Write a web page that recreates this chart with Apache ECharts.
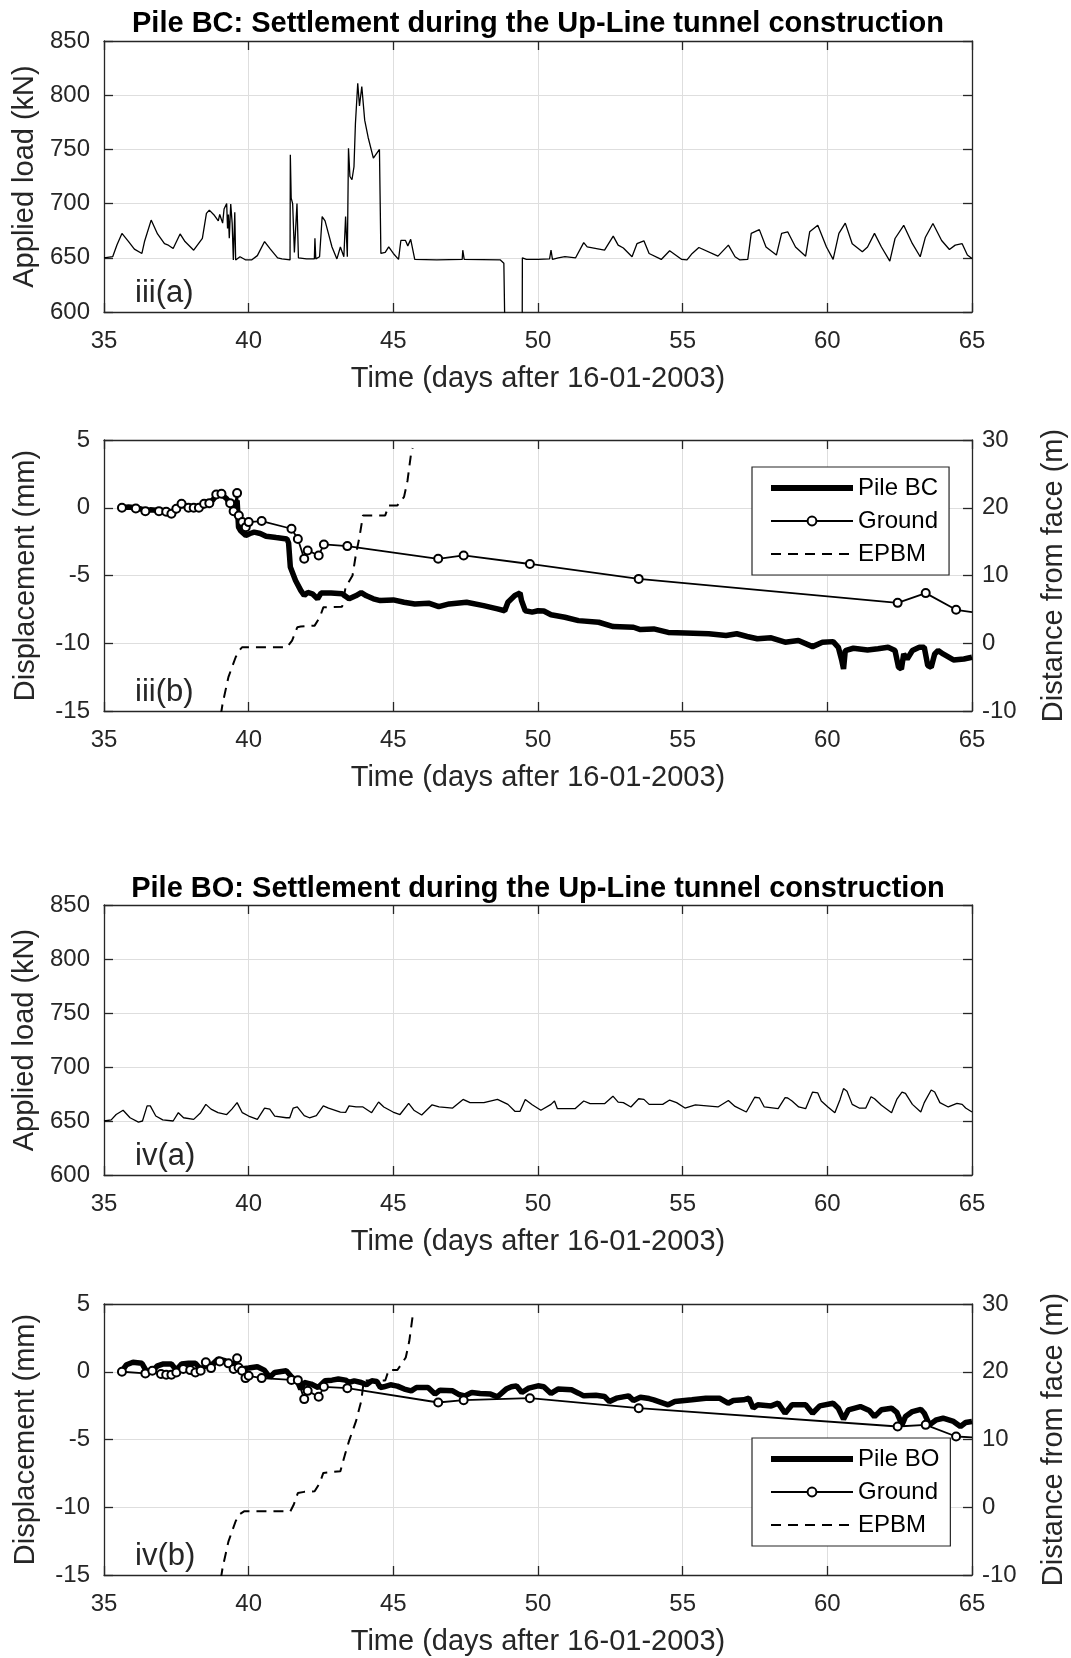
<!DOCTYPE html>
<html><head><meta charset="utf-8">
<script src="https://cdn.jsdelivr.net/npm/echarts/dist/echarts.min.js"></script>
<style>html,body{margin:0;padding:0;background:#fff}#c{width:1071px;height:1658px}</style>
</head><body><div id="c"></div>
<script>
// ---------------- DATA ----------------
const timeTicks = [35, 40, 45, 50, 55, 60, 65];
const loadTicks = [600, 650, 700, 750, 800, 850];
const dispTicks = [-15, -10, -5, 0, 5];
const distTicks = [-10, 0, 10, 20, 30];

// Pile BC applied load [day, kN]
const loadBC = [
[35.0,650],[35.3,651],[35.45,662],[35.62,672.5],[35.85,665],[36.05,658],[36.31,654],[36.4,665],[36.63,684.8],[36.85,672],
[37.09,663],[37.2,662],[37.39,658.6],[37.63,672],[37.8,665],[38.1,657],[38.4,668],[38.54,691],[38.64,694],[38.82,689],
[38.95,684],[39.0,690],[39.1,682],[39.15,695],[39.24,700],[39.27,677],[39.3,690],[39.33,668],[39.38,699.5],[39.43,682],
[39.47,648],[39.52,692],[39.55,648],[39.7,651],[39.9,648],[40.1,648],[40.3,652],[40.55,665],[40.75,658],[41.0,650],
[41.15,649],[41.43,648],[41.44,745],[41.47,705],[41.52,700],[41.58,655],[41.67,700],[41.72,650],[42.0,649],[42.27,649],
[42.29,668],[42.32,649],[42.45,651],[42.54,688],[42.64,684],[42.76,672],[42.88,660],[43.05,649],[43.17,660],[43.29,651],
[43.35,688],[43.41,651],[43.45,751],[43.5,725],[43.57,722],[43.64,734],[43.69,774],[43.77,811],[43.83,790],[43.91,808],
[44.01,777],[44.13,761],[44.31,742],[44.52,750],[44.57,654],[44.72,655],[44.84,660],[45.0,654],[45.18,648.5],[45.26,666],
[45.42,666],[45.5,661],[45.6,667],[45.74,648.5],[46.5,648],[47.38,648.5],[47.4,657],[47.45,648.5],[48.7,648],[48.82,645],
[48.88,540],[49.45,540],[49.46,650],[49.6,648.5],[50.0,648.5],[50.4,649],[50.45,657],[50.5,648.5],[50.7,650],[50.93,651],
[51.3,650],[51.58,664],[51.7,660],[52.3,657],[52.6,670],[52.77,661.7],[52.95,659],[53.25,651],[53.42,663],[53.66,665.7],
[53.84,654],[54.26,648.5],[54.55,656.5],[54.97,648.5],[55.15,648],[55.33,654],[55.56,659.5],[56.22,651.5],[56.58,661.7],[56.81,651],
[56.98,648],[57.25,648.5],[57.37,672.5],[57.65,676],[57.88,660],[58.24,652.5],[58.42,672.5],[58.63,674],[58.9,660],[59.25,651.5],
[59.39,674],[59.67,680],[59.97,660],[60.2,648.5],[60.4,672.5],[60.62,682],[60.86,663],[61.21,655.5],[61.39,660],[61.63,672.5],
[61.87,660],[62.16,647],[62.34,667.8],[62.64,680],[62.94,663],[63.21,651],[63.39,669],[63.65,681.7],[63.95,666],[64.22,657.7],
[64.42,661.7],[64.66,663],[64.84,652.5],[65.0,649.4]
];

// Pile BC displacement [day, mm]
const pileBC = [
[35.6,0],[35.85,0.05],[36.1,0],[36.3,-0.1],[36.43,-0.25],[36.6,-0.15],[36.9,-0.2],[37.15,-0.2],[37.39,-0.44],[37.5,-0.1],
[37.63,0.17],[37.9,0.15],[38.1,0],[38.35,0.05],[38.58,0.3],[38.75,0.55],[38.94,1.08],[39.06,1.0],[39.24,0.66],[39.42,0.1],
[39.52,-0.2],[39.6,0.54],[39.65,-1.43],[39.72,-1.7],[39.9,-2.04],[40.05,-1.9],[40.19,-1.8],[40.4,-1.9],[40.6,-2.1],[40.95,-2.2],
[41.32,-2.3],[41.38,-2.6],[41.44,-4.38],[41.62,-5.37],[41.8,-6.1],[41.92,-6.48],[42.04,-6.25],[42.2,-6.35],[42.38,-6.72],[42.5,-6.3],
[42.85,-6.3],[43.23,-6.35],[43.47,-6.72],[43.7,-6.5],[43.89,-6.26],[44.07,-6.5],[44.31,-6.72],[44.55,-6.85],[45.0,-6.8],[45.37,-6.97],
[45.74,-7.1],[46.22,-7.04],[46.57,-7.3],[46.93,-7.1],[47.53,-6.97],[48.12,-7.22],[48.6,-7.46],[48.85,-7.6],[48.96,-6.97],[49.2,-6.48],
[49.38,-6.3],[49.43,-6.85],[49.56,-7.6],[49.8,-7.7],[50.0,-7.6],[50.2,-7.62],[50.45,-7.9],[50.93,-8.08],[51.4,-8.33],[52.1,-8.45],
[52.6,-8.77],[53.3,-8.82],[53.54,-8.99],[54.0,-8.94],[54.5,-9.2],[55.1,-9.24],[55.9,-9.3],[56.5,-9.43],[56.87,-9.3],[57.23,-9.5],
[57.58,-9.67],[58.06,-9.6],[58.54,-9.92],[59.0,-9.8],[59.49,-10.25],[59.83,-9.93],[60.2,-9.88],[60.38,-10.3],[60.5,-11.28],[60.56,-11.9],
[60.62,-10.54],[60.9,-10.37],[61.39,-10.5],[61.75,-10.4],[62.1,-10.3],[62.34,-10.54],[62.46,-11.77],[62.56,-11.9],[62.64,-10.79],[62.76,-11.16],
[62.94,-10.54],[63.18,-10.3],[63.35,-10.3],[63.47,-11.65],[63.59,-11.77],[63.71,-10.79],[63.83,-10.54],[64.0,-10.79],[64.36,-11.23],[64.72,-11.16],
[65.0,-11.03]
];

// Ground next to pile BC [day, mm]
const groundBC = [
[35.62,0],[36.1,-0.05],[36.43,-0.25],[36.9,-0.25],[37.15,-0.3],[37.33,-0.44],[37.5,-0.07],[37.68,0.3],[37.92,0],[38.1,0],
[38.28,0],[38.46,0.3],[38.64,0.34],[38.88,0.98],[39.06,1.03],[39.36,0.34],[39.48,-0.25],[39.6,1.08],[39.66,-0.57],[39.78,-1.06],
[39.9,-1.43],[40.0,-1.06],[40.45,-0.98],[41.48,-1.55],[41.7,-2.3],[41.92,-3.77],[42.04,-3.15],[42.42,-3.52],[42.6,-2.71],[43.41,-2.83],
[46.55,-3.77],[47.43,-3.52],[49.72,-4.15],[53.48,-5.25],[62.43,-7.02],[63.4,-6.3],[64.45,-7.53],[65.0,-7.7]
];

// EPBM distance from face, pile BC [day, m]
const epbmBC = [
[39.04,-10.5],[39.1,-8.9],[39.3,-5.0],[39.55,-2.07],[39.67,-1.08],[39.77,-0.6],[41.32,-0.6],[41.5,0.4],[41.68,2.36],[41.8,2.46],
[42.28,2.6],[42.46,3.84],[42.58,5.3],[43.23,5.4],[43.35,8.28],[43.59,10.0],[43.71,13.2],[43.83,15.67],[43.95,18.87],[44.72,18.87],
[44.84,20.35],[45.14,20.35],[45.37,21.6],[45.49,24.0],[45.61,27.9],[45.67,28.8]
];

// Pile BO applied load [day, kN]
const loadBO = [
[35.0,650],[35.25,651],[35.42,656],[35.66,660],[35.9,653],[36.19,649],[36.33,650],[36.49,664],[36.6,664],[36.79,654.6],
[37.03,651],[37.39,650],[37.57,657.7],[37.75,653],[38.1,651.5],[38.34,657.7],[38.52,665.4],[38.7,661],[38.94,657.7],[39.24,656],
[39.42,661],[39.6,667],[39.78,657.7],[40.0,654.6],[40.3,651.5],[40.55,662],[40.73,661],[40.9,654.6],[41.3,653],[41.42,653],
[41.54,662],[41.68,663],[41.92,655],[42.1,653],[42.34,655],[42.58,664],[42.76,662],[43.17,658.3],[43.35,658],[43.47,664],
[43.71,663],[43.95,663],[44.25,657.7],[44.49,667.6],[44.67,663],[44.99,658.3],[45.23,656],[45.53,666.4],[45.71,660],[45.98,655.6],
[46.34,665],[46.58,663],[47.05,662],[47.41,670],[47.65,667],[48.13,667],[48.6,670],[48.96,665.4],[49.2,659],[49.38,659],
[49.56,670],[49.8,665],[50.1,660],[50.45,665.4],[50.57,668.5],[50.67,661.4],[51.28,661.4],[51.58,668.5],[51.8,666],[52.3,666],
[52.59,673],[52.77,667.5],[52.95,667],[53.21,663],[53.48,670.6],[53.66,670],[53.84,665.4],[54.31,665.4],[54.55,669.4],[54.79,667],
[55.08,662],[55.44,665],[56.22,663],[56.58,669],[56.81,663.5],[57.2,658.3],[57.49,672],[57.65,671.5],[57.82,663],[58.3,661.4],
[58.54,671.6],[58.63,671.3],[58.78,668.5],[59.01,663],[59.25,661.4],[59.49,676.8],[59.67,676],[59.79,668.5],[60.02,663],[60.26,657.7],
[60.44,670],[60.56,680],[60.68,677.5],[60.86,665.4],[61.1,662],[61.33,662],[61.51,672.5],[61.63,670.6],[61.87,664.5],[62.22,657.7],
[62.4,670],[62.58,676.8],[62.7,675.6],[62.94,665.4],[63.23,658.3],[63.35,667],[63.59,678.7],[63.71,676.8],[63.89,667],[64.18,663],
[64.48,666.4],[64.66,665.4],[64.78,662],[65.0,658.3]
];

// Pile BO displacement [day, mm]
const pileBO = [
[35.6,0],[35.78,0.52],[36.0,0.7],[36.31,0.62],[36.49,-0.05],[36.67,0.05],[36.85,0.44],[37.03,0.57],[37.33,0.57],[37.5,0.12],
[37.68,0.57],[37.92,0.62],[38.16,0.62],[38.34,0.2],[38.52,0.44],[38.76,0.57],[38.94,0.94],[39.18,0.81],[39.36,0.44],[39.54,0.7],
[39.72,0.2],[40.0,0.27],[40.3,0.37],[40.54,0.12],[40.73,-0.42],[40.9,-0.05],[41.3,0.07],[41.5,-0.42],[41.68,-0.67],[41.8,-1.28],
[41.92,-0.79],[42.16,-0.91],[42.4,-1.16],[42.64,-0.67],[42.88,-0.62],[43.1,-0.54],[43.35,-0.62],[43.47,-0.79],[43.65,-0.67],[43.89,-0.79],
[44.07,-0.96],[44.25,-0.67],[44.43,-0.72],[44.55,-1.16],[44.67,-1.11],[44.9,-0.96],[45.14,-1.06],[45.38,-1.28],[45.62,-1.41],[45.8,-1.16],
[46.2,-1.16],[46.44,-1.65],[46.61,-1.36],[47.05,-1.41],[47.29,-1.7],[47.47,-1.78],[47.71,-1.53],[48.0,-1.6],[48.36,-1.65],[48.6,-1.85],
[48.9,-1.28],[49.08,-1.11],[49.26,-1.04],[49.44,-1.53],[49.68,-1.21],[50.0,-1.04],[50.2,-1.1],[50.45,-1.6],[50.69,-1.28],[51.16,-1.33],
[51.4,-1.58],[51.58,-1.78],[52.0,-1.73],[52.3,-1.83],[52.47,-2.2],[52.71,-1.95],[53.13,-1.78],[53.3,-2.12],[53.54,-1.88],[53.84,-1.98],
[54.0,-2.07],[54.5,-2.44],[54.73,-2.2],[55.32,-2.07],[55.8,-1.95],[56.27,-1.95],[56.57,-2.32],[56.75,-2.12],[57.11,-2.07],[57.29,-1.95],
[57.44,-2.69],[57.59,-2.44],[58.06,-2.52],[58.3,-2.32],[58.54,-3.06],[58.78,-2.44],[59.25,-2.44],[59.49,-3.06],[59.74,-2.52],[60.2,-2.32],
[60.38,-2.69],[60.56,-3.5],[60.73,-2.81],[61.14,-2.57],[61.45,-2.86],[61.63,-3.31],[61.87,-2.81],[62.22,-2.69],[62.4,-3.0],[62.58,-3.92],
[62.7,-3.31],[62.94,-2.94],[63.23,-2.77],[63.35,-3.06],[63.53,-3.92],[63.77,-3.55],[64.0,-3.43],[64.36,-3.67],[64.6,-4.04],[64.78,-3.75],
[65.0,-3.67]
];

// Ground next to pile BO [day, mm]
const groundBO = [
[35.62,0],[36.43,-0.12],[36.67,0.07],[36.97,-0.17],[37.15,-0.22],[37.33,-0.22],[37.5,-0.05],[37.74,0.2],[37.98,0.12],[38.16,-0.05],
[38.34,0.07],[38.52,0.7],[38.7,0.27],[39.0,0.76],[39.3,0.62],[39.48,0.2],[39.6,1.0],[39.65,0.32],[39.77,0.07],[39.89,-0.47],
[40.0,-0.3],[40.45,-0.47],[41.48,-0.6],[41.7,-0.62],[41.92,-2.02],[42.04,-1.41],[42.42,-1.85],[42.6,-1.11],[43.41,-1.21],[46.55,-2.27],
[47.43,-2.1],[49.72,-1.95],[53.48,-2.69],[62.43,-4.04],[63.4,-3.92],[64.45,-4.78],[65.0,-4.85]
];

// EPBM distance from face, pile BO [day, m]
const epbmBO = [
[39.04,-10.5],[39.1,-8.9],[39.3,-5.07],[39.55,-2.07],[39.67,-1.08],[39.84,-0.6],[41.44,-0.6],[41.56,0.4],[41.7,2.1],[41.92,2.27],
[42.28,2.36],[42.46,3.6],[42.58,5.07],[43.17,5.32],[43.33,7.8],[43.47,9.8],[43.71,12.7],[43.89,15.67],[43.98,18.7],[44.72,18.7],
[44.84,20.25],[45.14,20.25],[45.43,22.1],[45.55,24.5],[45.68,28.6]
];

const titles = ['Pile BC: Settlement during the Up-Line tunnel construction',
                'Pile BO: Settlement during the Up-Line tunnel construction'];
const panelLabels = ['iii(a)', 'iii(b)', 'iv(a)', 'iv(b)'];
const xName = 'Time (days after 16-01-2003)';

// ---------------- STYLE / LAYOUT ----------------
const FONT = '"Liberation Sans", Arial, Helvetica, sans-serif';
const INK = '#262626';
const GRIDC = '#dedede';
const PILE_W = 5.5, THIN_W = 1.3, GROUND_W = 1.8, EPBM_W = 2, DASH = [10, 7];
const grids = [
  {left:104, top:41,   width:868, height:271},
  {left:104, top:440,  width:868, height:271},
  {left:104, top:905,  width:868, height:270},
  {left:104, top:1304, width:868, height:271}
];
const span = a => ({min:a[0], max:a[a.length-1], interval:a[1]-a[0]});
const line = {show:true, onZero:false, lineStyle:{color:INK, width:1.3}};
const tick = {show:true, inside:true, length:9, lineStyle:{color:INK, width:1.3}};
const lbl = {fontSize:24, color:INK, fontFamily:FONT};

const xAxis = [], yAxis = [];
grids.forEach((g, i) => {
  xAxis.push(Object.assign({type:'value', gridIndex:i, position:'bottom', axisLine:line, axisTick:tick,
    axisLabel:Object.assign({margin:17}, lbl), splitLine:{show:true, lineStyle:{color:GRIDC, width:1}},
    name:xName, nameLocation:'middle', nameGap:52,
    nameTextStyle:{fontSize:29, color:INK, fontFamily:FONT}}, span(timeTicks)));
  xAxis.push(Object.assign({type:'value', gridIndex:i, position:'top', axisLine:line, axisTick:tick,
    axisLabel:{show:false}, splitLine:{show:false}}, span(timeTicks)));
  const isLoad = (i % 2 === 0);
  yAxis.push(Object.assign({type:'value', gridIndex:i, position:'left', axisLine:line, axisTick:tick,
    axisLabel:Object.assign({margin:14}, lbl), splitLine:{show:true, lineStyle:{color:GRIDC, width:1}},
    name: isLoad ? 'Applied load (kN)' : 'Displacement (mm)', nameLocation:'middle', nameGap:64, nameRotate:90,
    nameTextStyle:{fontSize:29, color:INK, fontFamily:FONT}}, span(isLoad ? loadTicks : dispTicks)));
  if (isLoad) {
    yAxis.push(Object.assign({type:'value', gridIndex:i, position:'right', axisLine:line, axisTick:tick,
      axisLabel:{show:false}, splitLine:{show:false}}, span(loadTicks)));
  } else {
    yAxis.push(Object.assign({type:'value', gridIndex:i, position:'right', axisLine:line, axisTick:tick,
      axisLabel:Object.assign({margin:10}, lbl), splitLine:{show:false},
      name:'Distance from face (m)', nameLocation:'middle', nameGap:67, nameRotate:90,
      nameTextStyle:{fontSize:29, color:INK, fontFamily:FONT}}, span(distTicks)));
  }
});

function plain(name, data, xi, yi, width, dash) {
  return {type:'line', name, data, xAxisIndex:xi, yAxisIndex:yi, symbol:'none', showSymbol:false,
    clip:true, silent:true, lineStyle:{color:'#000', width, type: dash || 'solid'}, itemStyle:{color:'#000'}};
}
function ground(name, data, xi, yi) {
  const d = data.map((p, k) => k === data.length - 1 ? {value:p, symbol:'none'} : p);
  return {type:'line', name, data:d, xAxisIndex:xi, yAxisIndex:yi, symbol:'emptyCircle', symbolSize:8,
    showSymbol:true, clip:true, silent:true, lineStyle:{color:'#000', width:GROUND_W},
    itemStyle:{color:'#000', borderWidth:1.4}};
}

const series = [
  plain('Load BC', loadBC, 0, 0, THIN_W),
  plain('Pile BC', pileBC, 2, 2, PILE_W),
  ground('Ground', groundBC, 2, 2),
  plain('EPBM', epbmBC, 2, 3, EPBM_W, DASH),
  plain('Load BO', loadBO, 4, 4, THIN_W),
  plain('Pile BO', pileBO, 6, 6, PILE_W),
  ground('Ground', groundBO, 6, 6),
  plain('EPBM', epbmBO, 6, 7, EPBM_W, DASH)
];

function legendAt(top, pileName) {
  return {show:true, orient:'vertical', left:752, top,
    data:[
      {name:pileName, itemStyle:{opacity:0}, lineStyle:{width:6, color:'#000', type:'solid'}},
      {name:'Ground', lineStyle:{width:GROUND_W, color:'#000'}},
      {name:'EPBM', itemStyle:{opacity:0}, lineStyle:{width:EPBM_W, color:'#000', type:DASH}}
    ],
    itemWidth:82, itemHeight:11, itemGap:9,
    padding:[9, 11, 9, 16], borderColor:INK, borderWidth:1.2, backgroundColor:'#fff',
    selectedMode:false, textStyle:{fontSize:24, color:'#000', fontFamily:FONT, lineHeight:24}};
}

const graphic = [];
[[titles[0], 24], [titles[1], 889]].forEach(([t, y]) => graphic.push({type:'text', x:538, y,
  style:{text:t, font:'bold 29px ' + FONT, fill:'#000', textAlign:'center', textVerticalAlign:'middle',
         align:'center', verticalAlign:'middle'}}));
grids.forEach((g, i) => graphic.push({type:'text', x:135, y:g.top + g.height - 19,
  style:{text:panelLabels[i], font:'31px ' + FONT, fill:INK, textAlign:'left', textVerticalAlign:'middle',
         align:'left', verticalAlign:'middle'}}));

const chart = echarts.init(document.getElementById('c'), null, {renderer:'canvas'});
chart.setOption({
  backgroundColor:'#fff', animation:false,
  textStyle:{fontFamily:FONT},
  grid: grids.map(g => Object.assign({show:false, containLabel:false, outerBoundsMode:'none'}, g)),
  xAxis, yAxis, series,
  legend:[legendAt(467, 'Pile BC'), legendAt(1438, 'Pile BO')],
  graphic
});
</script></body></html>
